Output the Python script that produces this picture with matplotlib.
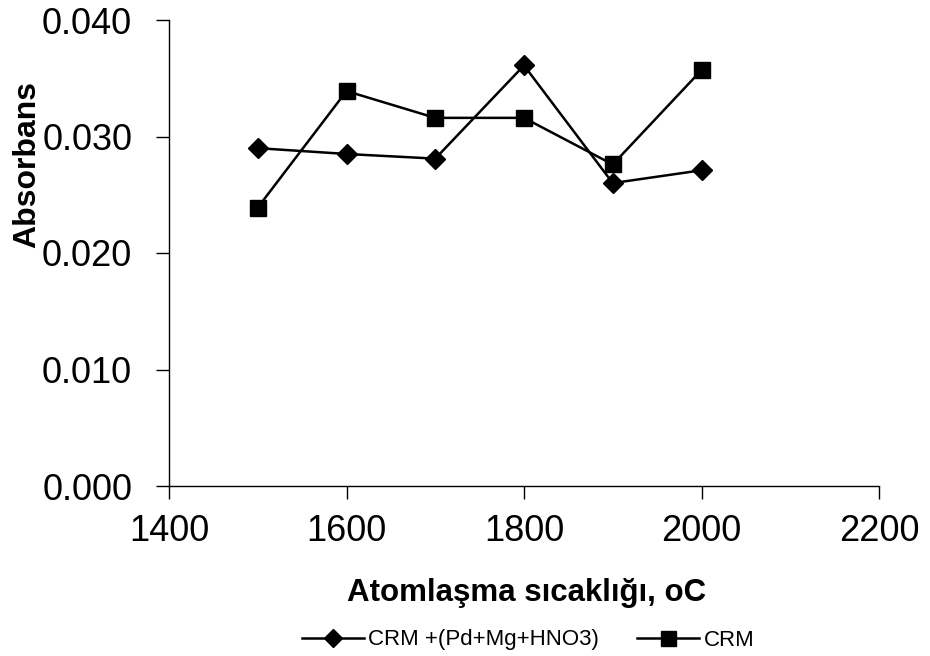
import matplotlib
matplotlib.use("Agg")
import matplotlib.pyplot as plt
from matplotlib.ticker import FormatStrFormatter

plt.rcParams['font.family'] = ['Liberation Sans', 'DejaVu Sans']

temps = [1500, 1600, 1700, 1800, 1900, 2000]
crm_mod = [0.0290, 0.0285, 0.0281, 0.0361, 0.0260, 0.0271]
crm = [0.0239, 0.0339, 0.0316, 0.0316, 0.0276, 0.0357]
label_mod = "CRM +(Pd+Mg+HNO3)"
label_crm = "CRM"
xlabel = "Atomlaşma sıcaklığı, oC"
ylabel = "Absorbans"

W, H = 930, 656
fig = plt.figure(figsize=(W/100, H/100), dpi=100)
ax = fig.add_axes([169/W, 1-486/H, (879-169)/W, (486-20)/H])

ax.plot(temps, crm_mod, color='black', lw=1.8, marker='D', markersize=10, label=label_mod)
ax.plot(temps, crm, color='black', lw=1.8, marker='s', markersize=12, label=label_crm)

ax.set_xlim(1400, 2200)
ax.set_ylim(0, 0.040)
ax.set_xticks([1400, 1600, 1800, 2000, 2200])
ax.set_yticks([0.0, 0.01, 0.02, 0.03, 0.04])
ax.yaxis.set_major_formatter(FormatStrFormatter('%.3f'))
for s in ['top', 'right']:
    ax.spines[s].set_visible(False)
for s in ['left', 'bottom']:
    ax.spines[s].set_linewidth(1.0)
ax.tick_params(axis='both', direction='out', length=9.5, width=1.0, labelsize=26)
ax.tick_params(axis='y', pad=17)
ax.tick_params(axis='x', pad=11)
for l in ax.lines:
    l.set_clip_on(False)

fig.text(527/W, 1-593/H, xlabel, fontsize=22.5, fontweight='bold', ha='center', va='center')
fig.text(27/W, 1-165/H, ylabel, fontsize=23, fontweight='bold', ha='center', va='center', rotation=90)

fig.legend(loc='center', bbox_to_anchor=(528/W, 1-640/H), ncol=2, frameon=False,
           fontsize=16, handlelength=2.8, columnspacing=1.7, handletextpad=0.2,
           markerscale=0.9)

fig.savefig("out.png", dpi=100)
